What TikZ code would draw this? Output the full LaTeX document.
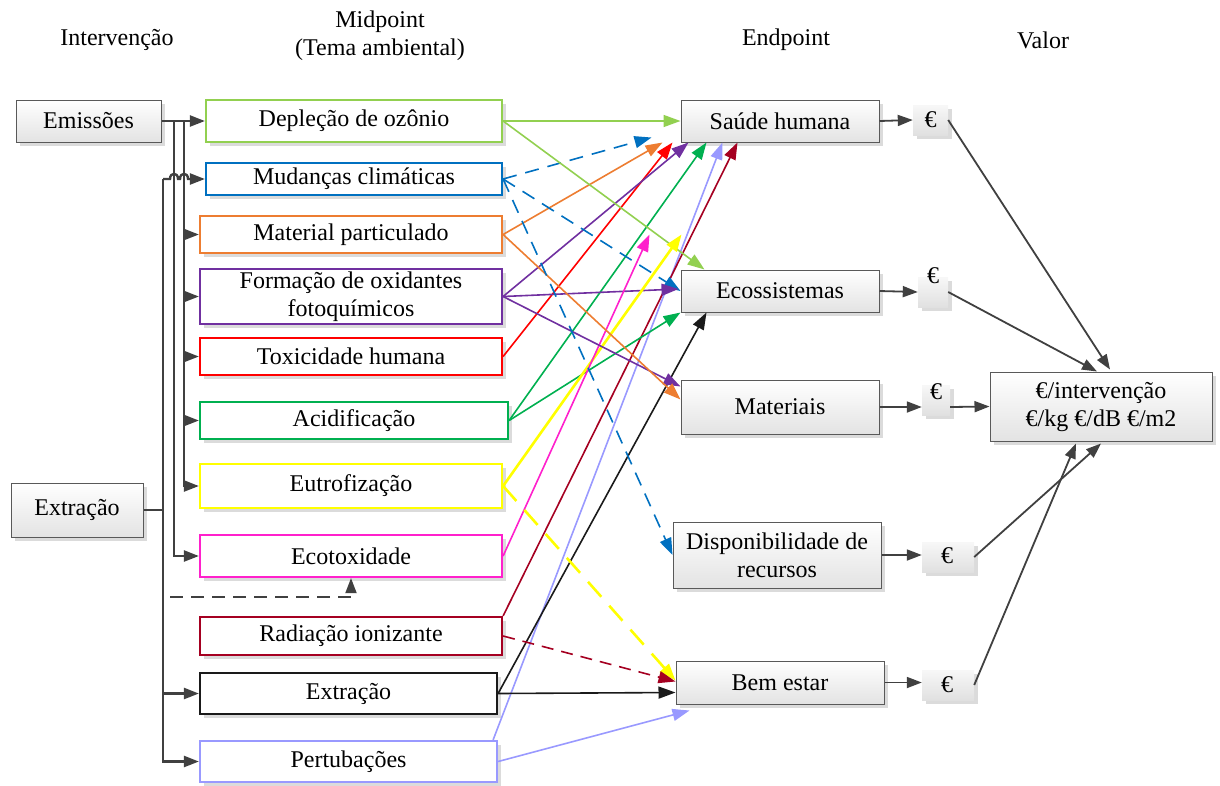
\documentclass[tikz,border=0pt]{standalone}
\usepackage{fontspec}
\setmainfont{Liberation Serif}
\usetikzlibrary{arrows.meta,shadows,calc}

\definecolor{cDep}{HTML}{92D050}
\definecolor{cMud}{HTML}{0070C0}
\definecolor{cMat}{HTML}{ED7D31}
\definecolor{cFor}{HTML}{7030A0}
\definecolor{cTox}{HTML}{FF0000}
\definecolor{cAci}{HTML}{00B050}
\definecolor{cEut}{HTML}{FFFF00}
\definecolor{cEco}{HTML}{FF20CC}
\definecolor{cRad}{HTML}{A50021}
\definecolor{cExt}{HTML}{1A1A1A}
\definecolor{cPer}{HTML}{9999FF}
\definecolor{cTree}{HTML}{404040}

\begin{document}
\begin{tikzpicture}[x=1pt,y=-1pt,
  font=\fontsize{24}{28}\selectfont,
  shadowed/.style={drop shadow={shadow xshift=4pt,shadow yshift=-4pt,fill=black!14,opacity=1}},
  midbox/.style={rectangle,draw,line width=2.2pt,fill=white,inner sep=0pt,align=center,shadowed},
  greybox/.style={rectangle,draw=black!65,line width=1pt,top color=white,bottom color=black!11,
     inner sep=0pt,align=center,shadowed},
  eurobox/.style={rectangle,top color=black!3,bottom color=black!12,inner sep=0pt,shadowed},
  header/.style={align=center,inner sep=0pt},
  tree/.style={draw=cTree,line width=2.4pt,-{Triangle[length=15pt,width=11pt]}},
  treeline/.style={draw=cTree,line width=2.4pt},
  flow/.style={line width=1.6pt,-{Triangle[length=17pt,width=12pt]}},
  valarrow/.style={draw=cTree,line width=1.8pt,-{Triangle[length=15pt,width=11pt]}},
]
\useasboundingbox (0,0) rectangle (1220,785);

% column headers
\node[header] (hInt) at (117,40) {Intervenção};
\node[header] (hMid) at (380,36) {Midpoint\\(Tema ambiental)};
\node[header] (hEnd) at (786,40) {Endpoint};
\node[header] (hVal) at (1043,40) {Valor};

% interventions
\node[greybox,minimum width=145pt,minimum height=42pt] (emis) at (88.5,121) {Emissões};
\node[greybox,minimum width=132pt,minimum height=54pt] (extl) at (77,510) {Extração};

% midpoint themes
\node[midbox,draw=cDep,minimum width=296pt,minimum height=42pt] (dep) at (354,121) {Depleção de ozônio};
\node[midbox,draw=cMud,minimum width=296pt,minimum height=32pt] (mud) at (354,179) {Mudanças climáticas};
\node[midbox,draw=cMat,minimum width=302pt,minimum height=37pt] (mat) at (351,234.5) {Material particulado};
\node[midbox,draw=cFor,minimum width=302pt,minimum height=55pt] (for) at (351,296.5) {Formação de oxidantes\\fotoquímicos};
\node[midbox,draw=cTox,minimum width=302pt,minimum height=37pt] (tox) at (351,356.5) {Toxicidade humana};
\node[midbox,draw=cAci,minimum width=308pt,minimum height=37pt] (aci) at (354,420.5) {Acidificação};
\node[midbox,draw=cEut,minimum width=302pt,minimum height=44pt] (eut) at (351,486) {Eutrofização};
\node[midbox,draw=cEco,minimum width=302pt,minimum height=42pt] (eco) at (351,556) {Ecotoxidade};
\node[midbox,draw=cRad,minimum width=302pt,minimum height=38pt] (rad) at (351,636) {Radiação ionizante};
\node[midbox,draw=cExt,minimum width=297pt,minimum height=41pt] (ext) at (348.5,693.5) {Extração};
\node[midbox,draw=cPer,minimum width=297pt,minimum height=41pt] (per) at (348.5,761.5) {Pertubações};

% endpoints
\node[greybox,minimum width=198pt,minimum height=42pt] (sau) at (780,121) {Saúde humana};
\node[greybox,minimum width=198pt,minimum height=42pt] (ecs) at (780,291) {Ecossistemas};
\node[greybox,minimum width=198pt,minimum height=54pt] (mats) at (780,407) {Materiais};
\node[greybox,minimum width=208pt,minimum height=66pt] (dis) at (777,555) {Disponibilidade de\\recursos};
\node[greybox,minimum width=208pt,minimum height=43pt] (bem) at (780,682.5) {Bem estar};

% monetary values
\node[eurobox,minimum width=35pt,minimum height=30pt] (e1) at (930.5,120) {};
\node[inner sep=0pt] (e1t) at (930.5,120) {€};
\node[eurobox,minimum width=30pt,minimum height=30pt] (e2) at (933,292) {};
\node[inner sep=0pt] (e2t) at (933,276) {€};
\node[eurobox,minimum width=28pt,minimum height=30pt] (e3) at (936,400) {};
\node[inner sep=0pt] (e3t) at (936,392) {€};
\node[eurobox,minimum width=52pt,minimum height=30pt] (e4) at (948,557) {};
\node[inner sep=0pt] (e4t) at (947,556) {€};
\node[eurobox,minimum width=52pt,minimum height=30pt] (e5) at (948,685) {};
\node[inner sep=0pt] (e5t) at (947,685) {€};

\node[greybox,minimum width=222pt,minimum height=69pt] (val) at (1101,406.5) {€/intervenção\\€/kg €/dB €/m2};

% branching points of the intervention trees
\coordinate (ja) at (174,121);
\coordinate (jb) at (184,121);
\coordinate (jx) at (163,179);
\coordinate (dstart) at (170,597);

% emission tree
\draw[tree] (emis.east) -- (dep.west);
\draw[tree] (jb) |- (mat.west);
\draw[tree] (jb) |- (for.west);
\draw[tree] (jb) |- (tox.west);
\draw[tree] (jb) |- (aci.west);
\draw[tree] (jb) |- (eut.west);
\draw[tree] (ja) |- (eco.west);

% extraction tree
\draw[treeline] (extl.east) -- (extl.east -| jx);
\draw[tree] (jx) -- (170,179) .. controls (170,172) and (178,172) .. (178,179)
   -- (180,179) .. controls (180,172) and (188,172) .. (188,179) -- (mud.west);
\draw[tree] (jx) |- (ext.west);
\draw[tree] (jx) |- (per.west);
\draw[draw=cTree,line width=1.8pt,dash pattern=on 13pt off 8pt,-{Triangle[length=15pt,width=11pt]}]
   (dstart) -| (eco.south);

% links to human health
\draw[flow,cDep] (dep.east) -- (sau.west);
\draw[flow,cMud,dash pattern=on 14pt off 9pt] (mud.east) -- ([xshift=-29pt,yshift=5pt]sau.south west);
\draw[flow,cMat] (mat.east) -- ([xshift=-18pt]sau.south west);
\draw[flow,cTox] (tox.east) -- ([xshift=-8pt]sau.south west);
\draw[flow,cFor] (for.east) -- ([xshift=8pt]sau.south west);
\draw[flow,cAci] (aci.east) -- ([xshift=26pt]sau.south west);
\draw[flow,cPer] ([xshift=-5pt]per.north east) -- ([xshift=42pt]sau.south west);
\draw[flow,cRad] (rad.north east) -- ([xshift=57pt]sau.south west);

% links to ecosystems
\draw[flow,cDep] (dep.east) -- ([xshift=24pt]ecs.north west);
\draw[flow,cMud,dash pattern=on 14pt off 9pt] (mud.east) -- (ecs.west);
\draw[flow,cFor] (for.east) -- ([xshift=-2pt,yshift=2pt]ecs.west);
\draw[flow,cAci] (aci.east) -- (ecs.south west);
\draw[flow,cExt] (ext.east) -- ([xshift=26pt]ecs.south west);
\draw[flow,cEut,line width=2.6pt] (eut.east) -- ([xshift=1pt,yshift=35pt]ecs.north west);
\draw[flow,cEco] (eco.east) -- ([xshift=-31pt,yshift=35pt]ecs.north west);

% links to materials
\draw[flow,cFor] (for.east) -- ([yshift=-7pt]mats.north west);
\draw[flow,cMat] (mat.east) -- ([yshift=-20pt]mats.north west);

% link to resource availability
\draw[flow,cMud,dash pattern=on 14pt off 9pt] (mud.east) -- (dis.west);

% links to well-being
\draw[flow,cEut,line width=2.6pt,dash pattern=on 20pt off 12pt] (eut.east) -- ([yshift=2pt]bem.west);
\draw[flow,cRad,dash pattern=on 12pt off 8pt] (rad.east) -- ([yshift=1pt]bem.west);
\draw[flow,cExt] (ext.east) -- ([yshift=-10pt]bem.west);
\draw[flow,cPer] (per.east) -- ([xshift=14pt,yshift=-6pt]bem.south west);

% valuation
\draw[valarrow] (sau.east) -- (e1.west);
\draw[valarrow] (ecs.east) -- (e2.west);
\draw[valarrow] (mats.east) -- (mats.east -| e3.west);
\draw[valarrow] (dis.east) -- (dis.east -| e4.west);
\draw[valarrow] (bem.east) -- (bem.east -| e5.west);

\draw[valarrow] (e1.east) -- ([xshift=9pt,yshift=2pt]val.north);
\draw[valarrow] (e2.east) -- ([xshift=-4pt]val.north);
\draw[valarrow] (mats.east -| e3.east) -- (val.west);
\draw[valarrow] (e4.east) -- ([yshift=-2pt]val.south);
\draw[valarrow] (e5.east) -- ([xshift=-25pt,yshift=-2pt]val.south);
\end{tikzpicture}
\end{document}
